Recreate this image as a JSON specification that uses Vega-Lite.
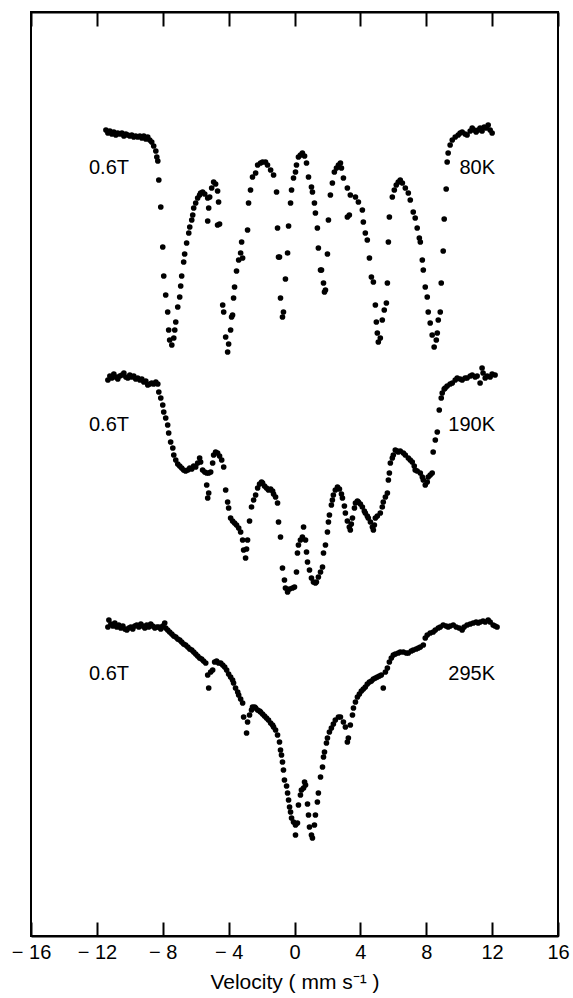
{
"$schema": "https://vega.github.io/schema/vega-lite/v6.json",
"width": 527, "height": 924,
"autosize": {"type": "none"},
"padding": {"left": 31, "top": 12, "right": 15, "bottom": 62},
"config": {"view": {"stroke": "black", "strokeWidth": 2}, "font": "Liberation Sans"},
"datasets": {
"pts": [
{"v":-11.45,"c":806,"s":"80K"},{"v":-11.33,"c":803,"s":"80K"},{"v":-11.21,"c":805,"s":"80K"},{"v":-11.09,"c":802,"s":"80K"},{"v":-10.97,"c":804,"s":"80K"},{"v":-10.85,"c":801,"s":"80K"},{"v":-10.73,"c":803,"s":"80K"},{"v":-10.61,"c":802,"s":"80K"},{"v":-10.48,"c":803,"s":"80K"},{"v":-10.36,"c":800,"s":"80K"},{"v":-10.24,"c":802,"s":"80K"},{"v":-10.12,"c":801,"s":"80K"},{"v":-10.00,"c":800,"s":"80K"},{"v":-9.88,"c":801,"s":"80K"},{"v":-9.76,"c":799,"s":"80K"},{"v":-9.64,"c":800,"s":"80K"},{"v":-9.52,"c":799,"s":"80K"},{"v":-9.39,"c":800,"s":"80K"},{"v":-9.27,"c":798,"s":"80K"},{"v":-9.15,"c":800,"s":"80K"},{"v":-9.03,"c":797,"s":"80K"},{"v":-8.91,"c":799,"s":"80K"},{"v":-8.79,"c":796,"s":"80K"},{"v":-8.67,"c":794,"s":"80K"},{"v":-8.55,"c":790,"s":"80K"},{"v":-8.42,"c":785,"s":"80K"},{"v":-8.36,"c":779,"s":"80K"},{"v":-8.30,"c":775,"s":"80K"},{"v":-8.24,"c":756,"s":"80K"},{"v":-8.12,"c":729,"s":"80K"},{"v":-8.00,"c":689,"s":"80K"},{"v":-7.94,"c":660,"s":"80K"},{"v":-7.82,"c":641,"s":"80K"},{"v":-7.70,"c":624,"s":"80K"},{"v":-7.64,"c":606,"s":"80K"},{"v":-7.58,"c":596,"s":"80K"},{"v":-7.45,"c":591,"s":"80K"},{"v":-7.33,"c":598,"s":"80K"},{"v":-7.27,"c":606,"s":"80K"},{"v":-7.21,"c":614,"s":"80K"},{"v":-7.09,"c":629,"s":"80K"},{"v":-6.97,"c":639,"s":"80K"},{"v":-6.91,"c":650,"s":"80K"},{"v":-6.85,"c":660,"s":"80K"},{"v":-6.73,"c":674,"s":"80K"},{"v":-6.67,"c":682,"s":"80K"},{"v":-6.55,"c":693,"s":"80K"},{"v":-6.42,"c":703,"s":"80K"},{"v":-6.36,"c":709,"s":"80K"},{"v":-6.24,"c":716,"s":"80K"},{"v":-6.18,"c":721,"s":"80K"},{"v":-6.12,"c":728,"s":"80K"},{"v":-6.00,"c":733,"s":"80K"},{"v":-5.88,"c":738,"s":"80K"},{"v":-5.76,"c":741,"s":"80K"},{"v":-5.70,"c":743,"s":"80K"},{"v":-5.58,"c":744,"s":"80K"},{"v":-5.45,"c":742,"s":"80K"},{"v":-5.27,"c":738,"s":"80K"},{"v":-5.21,"c":728,"s":"80K"},{"v":-5.27,"c":715,"s":"80K"},{"v":-5.15,"c":739,"s":"80K"},{"v":-5.03,"c":748,"s":"80K"},{"v":-4.91,"c":754,"s":"80K"},{"v":-4.79,"c":752,"s":"80K"},{"v":-4.67,"c":745,"s":"80K"},{"v":-4.61,"c":734,"s":"80K"},{"v":-4.67,"c":711,"s":"80K"},{"v":-4.55,"c":712,"s":"80K"},{"v":-4.36,"c":631,"s":"80K"},{"v":-4.30,"c":624,"s":"80K"},{"v":-4.18,"c":599,"s":"80K"},{"v":-4.06,"c":584,"s":"80K"},{"v":-4.00,"c":592,"s":"80K"},{"v":-3.88,"c":606,"s":"80K"},{"v":-3.82,"c":619,"s":"80K"},{"v":-3.76,"c":621,"s":"80K"},{"v":-3.70,"c":638,"s":"80K"},{"v":-3.64,"c":649,"s":"80K"},{"v":-3.52,"c":665,"s":"80K"},{"v":-3.39,"c":676,"s":"80K"},{"v":-3.27,"c":683,"s":"80K"},{"v":-3.21,"c":694,"s":"80K"},{"v":-3.15,"c":678,"s":"80K"},{"v":-2.85,"c":706,"s":"80K"},{"v":-2.79,"c":733,"s":"80K"},{"v":-2.67,"c":746,"s":"80K"},{"v":-2.55,"c":759,"s":"80K"},{"v":-2.36,"c":763,"s":"80K"},{"v":-2.24,"c":771,"s":"80K"},{"v":-2.06,"c":773,"s":"80K"},{"v":-1.94,"c":774,"s":"80K"},{"v":-1.76,"c":774,"s":"80K"},{"v":-1.64,"c":771,"s":"80K"},{"v":-1.45,"c":766,"s":"80K"},{"v":-1.27,"c":761,"s":"80K"},{"v":-1.09,"c":744,"s":"80K"},{"v":-1.03,"c":708,"s":"80K"},{"v":-0.91,"c":679,"s":"80K"},{"v":-0.97,"c":679,"s":"80K"},{"v":-0.85,"c":638,"s":"80K"},{"v":-0.73,"c":619,"s":"80K"},{"v":-0.67,"c":624,"s":"80K"},{"v":-0.55,"c":657,"s":"80K"},{"v":-0.42,"c":683,"s":"80K"},{"v":-0.36,"c":710,"s":"80K"},{"v":-0.24,"c":733,"s":"80K"},{"v":-0.18,"c":746,"s":"80K"},{"v":-0.06,"c":758,"s":"80K"},{"v":0.06,"c":764,"s":"80K"},{"v":0.12,"c":771,"s":"80K"},{"v":0.24,"c":779,"s":"80K"},{"v":0.36,"c":781,"s":"80K"},{"v":0.48,"c":783,"s":"80K"},{"v":0.61,"c":780,"s":"80K"},{"v":0.73,"c":773,"s":"80K"},{"v":0.85,"c":759,"s":"80K"},{"v":1.03,"c":749,"s":"80K"},{"v":1.09,"c":744,"s":"80K"},{"v":1.21,"c":733,"s":"80K"},{"v":1.27,"c":723,"s":"80K"},{"v":1.39,"c":708,"s":"80K"},{"v":1.45,"c":688,"s":"80K"},{"v":1.58,"c":666,"s":"80K"},{"v":1.64,"c":666,"s":"80K"},{"v":1.76,"c":653,"s":"80K"},{"v":1.82,"c":644,"s":"80K"},{"v":1.88,"c":646,"s":"80K"},{"v":2.00,"c":682,"s":"80K"},{"v":2.06,"c":716,"s":"80K"},{"v":2.18,"c":741,"s":"80K"},{"v":2.30,"c":753,"s":"80K"},{"v":2.42,"c":764,"s":"80K"},{"v":2.55,"c":768,"s":"80K"},{"v":2.67,"c":771,"s":"80K"},{"v":2.79,"c":773,"s":"80K"},{"v":2.85,"c":768,"s":"80K"},{"v":2.97,"c":758,"s":"80K"},{"v":3.21,"c":748,"s":"80K"},{"v":3.39,"c":741,"s":"80K"},{"v":3.21,"c":719,"s":"80K"},{"v":3.33,"c":721,"s":"80K"},{"v":3.70,"c":739,"s":"80K"},{"v":3.88,"c":734,"s":"80K"},{"v":4.12,"c":726,"s":"80K"},{"v":4.18,"c":714,"s":"80K"},{"v":4.30,"c":703,"s":"80K"},{"v":4.42,"c":696,"s":"80K"},{"v":4.55,"c":678,"s":"80K"},{"v":4.67,"c":659,"s":"80K"},{"v":4.79,"c":654,"s":"80K"},{"v":4.91,"c":631,"s":"80K"},{"v":4.97,"c":614,"s":"80K"},{"v":5.03,"c":603,"s":"80K"},{"v":5.09,"c":594,"s":"80K"},{"v":5.21,"c":598,"s":"80K"},{"v":5.33,"c":616,"s":"80K"},{"v":5.45,"c":626,"s":"80K"},{"v":5.58,"c":633,"s":"80K"},{"v":5.64,"c":653,"s":"80K"},{"v":5.70,"c":694,"s":"80K"},{"v":5.76,"c":719,"s":"80K"},{"v":5.94,"c":739,"s":"80K"},{"v":6.06,"c":746,"s":"80K"},{"v":6.18,"c":751,"s":"80K"},{"v":6.30,"c":754,"s":"80K"},{"v":6.42,"c":756,"s":"80K"},{"v":6.55,"c":753,"s":"80K"},{"v":6.73,"c":748,"s":"80K"},{"v":6.91,"c":743,"s":"80K"},{"v":7.03,"c":736,"s":"80K"},{"v":7.21,"c":724,"s":"80K"},{"v":7.33,"c":718,"s":"80K"},{"v":7.45,"c":708,"s":"80K"},{"v":7.58,"c":698,"s":"80K"},{"v":7.64,"c":694,"s":"80K"},{"v":7.76,"c":676,"s":"80K"},{"v":7.82,"c":666,"s":"80K"},{"v":7.94,"c":649,"s":"80K"},{"v":8.06,"c":639,"s":"80K"},{"v":8.12,"c":624,"s":"80K"},{"v":8.24,"c":613,"s":"80K"},{"v":8.36,"c":601,"s":"80K"},{"v":8.48,"c":589,"s":"80K"},{"v":8.61,"c":596,"s":"80K"},{"v":8.67,"c":603,"s":"80K"},{"v":8.73,"c":616,"s":"80K"},{"v":8.85,"c":624,"s":"80K"},{"v":8.91,"c":653,"s":"80K"},{"v":9.03,"c":685,"s":"80K"},{"v":9.09,"c":717,"s":"80K"},{"v":9.21,"c":747,"s":"80K"},{"v":9.27,"c":774,"s":"80K"},{"v":9.33,"c":783,"s":"80K"},{"v":9.45,"c":791,"s":"80K"},{"v":9.58,"c":796,"s":"80K"},{"v":9.76,"c":799,"s":"80K"},{"v":9.94,"c":801,"s":"80K"},{"v":10.06,"c":803,"s":"80K"},{"v":10.18,"c":804,"s":"80K"},{"v":10.36,"c":802,"s":"80K"},{"v":10.48,"c":801,"s":"80K"},{"v":10.67,"c":805,"s":"80K"},{"v":10.79,"c":808,"s":"80K"},{"v":10.91,"c":806,"s":"80K"},{"v":11.03,"c":804,"s":"80K"},{"v":11.15,"c":806,"s":"80K"},{"v":11.27,"c":808,"s":"80K"},{"v":11.39,"c":805,"s":"80K"},{"v":11.52,"c":809,"s":"80K"},{"v":11.64,"c":808,"s":"80K"},{"v":11.76,"c":811,"s":"80K"},{"v":11.88,"c":806,"s":"80K"},{"v":12.00,"c":803,"s":"80K"},
{"v":-11.33,"c":556,"s":"190K"},{"v":-11.21,"c":560,"s":"190K"},{"v":-11.09,"c":558,"s":"190K"},{"v":-10.97,"c":562,"s":"190K"},{"v":-10.85,"c":559,"s":"190K"},{"v":-10.73,"c":557,"s":"190K"},{"v":-10.61,"c":560,"s":"190K"},{"v":-10.48,"c":561,"s":"190K"},{"v":-10.36,"c":563,"s":"190K"},{"v":-10.24,"c":559,"s":"190K"},{"v":-10.12,"c":558,"s":"190K"},{"v":-10.00,"c":561,"s":"190K"},{"v":-9.88,"c":559,"s":"190K"},{"v":-9.76,"c":560,"s":"190K"},{"v":-9.64,"c":557,"s":"190K"},{"v":-9.52,"c":558,"s":"190K"},{"v":-9.39,"c":556,"s":"190K"},{"v":-9.27,"c":557,"s":"190K"},{"v":-9.15,"c":554,"s":"190K"},{"v":-9.03,"c":555,"s":"190K"},{"v":-8.91,"c":551,"s":"190K"},{"v":-8.79,"c":552,"s":"190K"},{"v":-8.67,"c":553,"s":"190K"},{"v":-8.55,"c":552,"s":"190K"},{"v":-8.42,"c":554,"s":"190K"},{"v":-8.30,"c":552,"s":"190K"},{"v":-8.24,"c":544,"s":"190K"},{"v":-8.12,"c":538,"s":"190K"},{"v":-8.00,"c":531,"s":"190K"},{"v":-7.94,"c":524,"s":"190K"},{"v":-7.82,"c":518,"s":"190K"},{"v":-7.70,"c":511,"s":"190K"},{"v":-7.64,"c":503,"s":"190K"},{"v":-7.52,"c":494,"s":"190K"},{"v":-7.39,"c":488,"s":"190K"},{"v":-7.33,"c":481,"s":"190K"},{"v":-7.21,"c":476,"s":"190K"},{"v":-7.09,"c":472,"s":"190K"},{"v":-6.97,"c":470,"s":"190K"},{"v":-6.85,"c":468,"s":"190K"},{"v":-6.73,"c":466,"s":"190K"},{"v":-6.61,"c":465,"s":"190K"},{"v":-6.48,"c":466,"s":"190K"},{"v":-6.36,"c":468,"s":"190K"},{"v":-6.24,"c":467,"s":"190K"},{"v":-6.12,"c":470,"s":"190K"},{"v":-6.00,"c":469,"s":"190K"},{"v":-5.88,"c":473,"s":"190K"},{"v":-5.76,"c":478,"s":"190K"},{"v":-5.70,"c":474,"s":"190K"},{"v":-5.58,"c":466,"s":"190K"},{"v":-5.45,"c":464,"s":"190K"},{"v":-5.33,"c":463,"s":"190K"},{"v":-5.21,"c":463,"s":"190K"},{"v":-5.09,"c":464,"s":"190K"},{"v":-4.97,"c":473,"s":"190K"},{"v":-4.91,"c":481,"s":"190K"},{"v":-4.79,"c":484,"s":"190K"},{"v":-4.67,"c":483,"s":"190K"},{"v":-4.55,"c":480,"s":"190K"},{"v":-4.42,"c":476,"s":"190K"},{"v":-4.30,"c":469,"s":"190K"},{"v":-5.33,"c":451,"s":"190K"},{"v":-5.21,"c":443,"s":"190K"},{"v":-5.27,"c":438,"s":"190K"},{"v":-4.18,"c":446,"s":"190K"},{"v":-4.06,"c":434,"s":"190K"},{"v":-4.00,"c":428,"s":"190K"},{"v":-3.88,"c":418,"s":"190K"},{"v":-3.76,"c":415,"s":"190K"},{"v":-3.64,"c":413,"s":"190K"},{"v":-3.52,"c":411,"s":"190K"},{"v":-3.39,"c":408,"s":"190K"},{"v":-3.27,"c":404,"s":"190K"},{"v":-3.15,"c":396,"s":"190K"},{"v":-3.09,"c":386,"s":"190K"},{"v":-2.97,"c":378,"s":"190K"},{"v":-2.91,"c":387,"s":"190K"},{"v":-2.85,"c":396,"s":"190K"},{"v":-2.73,"c":415,"s":"190K"},{"v":-2.61,"c":429,"s":"190K"},{"v":-2.48,"c":436,"s":"190K"},{"v":-2.36,"c":441,"s":"190K"},{"v":-2.24,"c":448,"s":"190K"},{"v":-2.12,"c":452,"s":"190K"},{"v":-2.00,"c":454,"s":"190K"},{"v":-1.94,"c":453,"s":"190K"},{"v":-1.82,"c":450,"s":"190K"},{"v":-1.70,"c":448,"s":"190K"},{"v":-1.58,"c":446,"s":"190K"},{"v":-1.45,"c":447,"s":"190K"},{"v":-1.33,"c":445,"s":"190K"},{"v":-1.27,"c":442,"s":"190K"},{"v":-1.15,"c":439,"s":"190K"},{"v":-1.03,"c":433,"s":"190K"},{"v":-0.97,"c":414,"s":"190K"},{"v":-0.85,"c":399,"s":"190K"},{"v":-0.73,"c":368,"s":"190K"},{"v":-0.61,"c":356,"s":"190K"},{"v":-0.55,"c":348,"s":"190K"},{"v":-0.42,"c":344,"s":"190K"},{"v":-0.30,"c":347,"s":"190K"},{"v":-0.12,"c":348,"s":"190K"},{"v":0.00,"c":349,"s":"190K"},{"v":0.12,"c":364,"s":"190K"},{"v":0.18,"c":383,"s":"190K"},{"v":0.24,"c":391,"s":"190K"},{"v":0.36,"c":396,"s":"190K"},{"v":0.48,"c":399,"s":"190K"},{"v":0.55,"c":409,"s":"190K"},{"v":0.67,"c":396,"s":"190K"},{"v":0.73,"c":384,"s":"190K"},{"v":0.79,"c":374,"s":"190K"},{"v":0.91,"c":366,"s":"190K"},{"v":1.03,"c":358,"s":"190K"},{"v":1.15,"c":354,"s":"190K"},{"v":1.27,"c":353,"s":"190K"},{"v":1.33,"c":354,"s":"190K"},{"v":1.45,"c":359,"s":"190K"},{"v":1.58,"c":364,"s":"190K"},{"v":1.70,"c":369,"s":"190K"},{"v":1.76,"c":383,"s":"190K"},{"v":1.88,"c":391,"s":"190K"},{"v":2.00,"c":404,"s":"190K"},{"v":2.06,"c":414,"s":"190K"},{"v":2.12,"c":421,"s":"190K"},{"v":2.24,"c":431,"s":"190K"},{"v":2.30,"c":436,"s":"190K"},{"v":2.36,"c":441,"s":"190K"},{"v":2.48,"c":446,"s":"190K"},{"v":2.61,"c":449,"s":"190K"},{"v":2.73,"c":447,"s":"190K"},{"v":2.85,"c":442,"s":"190K"},{"v":2.91,"c":438,"s":"190K"},{"v":3.03,"c":430,"s":"190K"},{"v":3.09,"c":423,"s":"190K"},{"v":3.21,"c":415,"s":"190K"},{"v":3.33,"c":409,"s":"190K"},{"v":3.39,"c":406,"s":"190K"},{"v":3.45,"c":412,"s":"190K"},{"v":3.52,"c":418,"s":"190K"},{"v":3.64,"c":428,"s":"190K"},{"v":3.70,"c":433,"s":"190K"},{"v":3.82,"c":435,"s":"190K"},{"v":3.88,"c":434,"s":"190K"},{"v":4.00,"c":432,"s":"190K"},{"v":4.12,"c":429,"s":"190K"},{"v":4.24,"c":425,"s":"190K"},{"v":4.30,"c":423,"s":"190K"},{"v":4.42,"c":420,"s":"190K"},{"v":4.48,"c":418,"s":"190K"},{"v":4.61,"c":414,"s":"190K"},{"v":4.73,"c":409,"s":"190K"},{"v":4.79,"c":406,"s":"190K"},{"v":4.85,"c":411,"s":"190K"},{"v":4.91,"c":418,"s":"190K"},{"v":5.03,"c":420,"s":"190K"},{"v":5.21,"c":423,"s":"190K"},{"v":5.33,"c":429,"s":"190K"},{"v":5.39,"c":434,"s":"190K"},{"v":5.52,"c":439,"s":"190K"},{"v":5.64,"c":443,"s":"190K"},{"v":5.70,"c":456,"s":"190K"},{"v":5.76,"c":463,"s":"190K"},{"v":5.82,"c":473,"s":"190K"},{"v":5.94,"c":478,"s":"190K"},{"v":6.00,"c":481,"s":"190K"},{"v":6.12,"c":486,"s":"190K"},{"v":6.24,"c":485,"s":"190K"},{"v":6.30,"c":484,"s":"190K"},{"v":6.42,"c":485,"s":"190K"},{"v":6.61,"c":483,"s":"190K"},{"v":6.73,"c":481,"s":"190K"},{"v":6.91,"c":478,"s":"190K"},{"v":7.03,"c":476,"s":"190K"},{"v":7.15,"c":474,"s":"190K"},{"v":7.27,"c":470,"s":"190K"},{"v":7.33,"c":466,"s":"190K"},{"v":7.45,"c":465,"s":"190K"},{"v":7.64,"c":463,"s":"190K"},{"v":7.76,"c":459,"s":"190K"},{"v":7.82,"c":456,"s":"190K"},{"v":7.94,"c":451,"s":"190K"},{"v":8.06,"c":454,"s":"190K"},{"v":8.12,"c":459,"s":"190K"},{"v":8.24,"c":461,"s":"190K"},{"v":8.36,"c":463,"s":"190K"},{"v":8.42,"c":484,"s":"190K"},{"v":8.55,"c":496,"s":"190K"},{"v":8.67,"c":504,"s":"190K"},{"v":8.79,"c":526,"s":"190K"},{"v":8.91,"c":538,"s":"190K"},{"v":8.97,"c":543,"s":"190K"},{"v":9.09,"c":547,"s":"190K"},{"v":9.15,"c":548,"s":"190K"},{"v":9.27,"c":550,"s":"190K"},{"v":9.45,"c":552,"s":"190K"},{"v":9.58,"c":553,"s":"190K"},{"v":9.76,"c":556,"s":"190K"},{"v":9.88,"c":558,"s":"190K"},{"v":10.06,"c":557,"s":"190K"},{"v":10.18,"c":556,"s":"190K"},{"v":10.36,"c":558,"s":"190K"},{"v":10.48,"c":558,"s":"190K"},{"v":10.67,"c":560,"s":"190K"},{"v":10.79,"c":561,"s":"190K"},{"v":10.97,"c":559,"s":"190K"},{"v":11.09,"c":560,"s":"190K"},{"v":11.27,"c":553,"s":"190K"},{"v":11.39,"c":568,"s":"190K"},{"v":11.45,"c":563,"s":"190K"},{"v":11.58,"c":558,"s":"190K"},{"v":11.70,"c":560,"s":"190K"},{"v":11.88,"c":559,"s":"190K"},{"v":12.00,"c":562,"s":"190K"},{"v":12.18,"c":561,"s":"190K"},
{"v":-11.33,"c":309,"s":"295K"},{"v":-11.27,"c":316,"s":"295K"},{"v":-11.15,"c":312,"s":"295K"},{"v":-11.03,"c":310,"s":"295K"},{"v":-10.91,"c":313,"s":"295K"},{"v":-10.79,"c":309,"s":"295K"},{"v":-10.67,"c":311,"s":"295K"},{"v":-10.55,"c":308,"s":"295K"},{"v":-10.42,"c":310,"s":"295K"},{"v":-10.30,"c":307,"s":"295K"},{"v":-10.18,"c":306,"s":"295K"},{"v":-10.06,"c":308,"s":"295K"},{"v":-9.94,"c":309,"s":"295K"},{"v":-9.82,"c":307,"s":"295K"},{"v":-9.70,"c":310,"s":"295K"},{"v":-9.58,"c":311,"s":"295K"},{"v":-9.45,"c":309,"s":"295K"},{"v":-9.33,"c":312,"s":"295K"},{"v":-9.21,"c":310,"s":"295K"},{"v":-9.09,"c":308,"s":"295K"},{"v":-8.97,"c":311,"s":"295K"},{"v":-8.85,"c":309,"s":"295K"},{"v":-8.73,"c":312,"s":"295K"},{"v":-8.61,"c":310,"s":"295K"},{"v":-8.48,"c":308,"s":"295K"},{"v":-8.36,"c":309,"s":"295K"},{"v":-8.24,"c":309,"s":"295K"},{"v":-8.12,"c":307,"s":"295K"},{"v":-8.00,"c":310,"s":"295K"},{"v":-7.88,"c":313,"s":"295K"},{"v":-7.82,"c":308,"s":"295K"},{"v":-7.70,"c":306,"s":"295K"},{"v":-7.58,"c":304,"s":"295K"},{"v":-7.45,"c":302,"s":"295K"},{"v":-7.33,"c":300,"s":"295K"},{"v":-7.21,"c":299,"s":"295K"},{"v":-7.09,"c":297,"s":"295K"},{"v":-6.97,"c":296,"s":"295K"},{"v":-6.85,"c":294,"s":"295K"},{"v":-6.73,"c":292,"s":"295K"},{"v":-6.61,"c":291,"s":"295K"},{"v":-6.48,"c":289,"s":"295K"},{"v":-6.36,"c":287,"s":"295K"},{"v":-6.24,"c":286,"s":"295K"},{"v":-6.12,"c":284,"s":"295K"},{"v":-6.00,"c":282,"s":"295K"},{"v":-5.88,"c":280,"s":"295K"},{"v":-5.76,"c":278,"s":"295K"},{"v":-5.64,"c":277,"s":"295K"},{"v":-5.52,"c":275,"s":"295K"},{"v":-5.39,"c":273,"s":"295K"},{"v":-5.27,"c":261,"s":"295K"},{"v":-5.21,"c":248,"s":"295K"},{"v":-5.09,"c":264,"s":"295K"},{"v":-4.97,"c":266,"s":"295K"},{"v":-4.85,"c":274,"s":"295K"},{"v":-4.73,"c":275,"s":"295K"},{"v":-4.61,"c":273,"s":"295K"},{"v":-4.48,"c":273,"s":"295K"},{"v":-4.36,"c":271,"s":"295K"},{"v":-4.24,"c":269,"s":"295K"},{"v":-4.12,"c":266,"s":"295K"},{"v":-4.00,"c":262,"s":"295K"},{"v":-3.88,"c":259,"s":"295K"},{"v":-3.76,"c":256,"s":"295K"},{"v":-3.70,"c":253,"s":"295K"},{"v":-3.58,"c":248,"s":"295K"},{"v":-3.45,"c":244,"s":"295K"},{"v":-3.39,"c":241,"s":"295K"},{"v":-3.27,"c":237,"s":"295K"},{"v":-3.15,"c":233,"s":"295K"},{"v":-3.09,"c":219,"s":"295K"},{"v":-2.91,"c":203,"s":"295K"},{"v":-2.85,"c":214,"s":"295K"},{"v":-2.73,"c":221,"s":"295K"},{"v":-2.61,"c":226,"s":"295K"},{"v":-2.55,"c":229,"s":"295K"},{"v":-2.42,"c":229,"s":"295K"},{"v":-2.36,"c":228,"s":"295K"},{"v":-2.24,"c":226,"s":"295K"},{"v":-2.12,"c":225,"s":"295K"},{"v":-2.06,"c":224,"s":"295K"},{"v":-1.94,"c":222,"s":"295K"},{"v":-1.82,"c":220,"s":"295K"},{"v":-1.70,"c":218,"s":"295K"},{"v":-1.58,"c":216,"s":"295K"},{"v":-1.45,"c":213,"s":"295K"},{"v":-1.33,"c":211,"s":"295K"},{"v":-1.27,"c":209,"s":"295K"},{"v":-1.15,"c":206,"s":"295K"},{"v":-1.03,"c":201,"s":"295K"},{"v":-0.91,"c":194,"s":"295K"},{"v":-0.85,"c":186,"s":"295K"},{"v":-0.79,"c":181,"s":"295K"},{"v":-0.73,"c":174,"s":"295K"},{"v":-0.67,"c":166,"s":"295K"},{"v":-0.61,"c":156,"s":"295K"},{"v":-0.48,"c":150,"s":"295K"},{"v":-0.42,"c":143,"s":"295K"},{"v":-0.36,"c":136,"s":"295K"},{"v":-0.30,"c":129,"s":"295K"},{"v":-0.24,"c":124,"s":"295K"},{"v":-0.18,"c":118,"s":"295K"},{"v":-0.06,"c":114,"s":"295K"},{"v":0.06,"c":111,"s":"295K"},{"v":0.06,"c":101,"s":"295K"},{"v":0.18,"c":113,"s":"295K"},{"v":0.24,"c":131,"s":"295K"},{"v":0.36,"c":141,"s":"295K"},{"v":0.42,"c":146,"s":"295K"},{"v":0.55,"c":148,"s":"295K"},{"v":0.61,"c":154,"s":"295K"},{"v":0.67,"c":151,"s":"295K"},{"v":0.79,"c":132,"s":"295K"},{"v":0.85,"c":121,"s":"295K"},{"v":0.91,"c":109,"s":"295K"},{"v":1.03,"c":101,"s":"295K"},{"v":1.09,"c":98,"s":"295K"},{"v":1.21,"c":111,"s":"295K"},{"v":1.27,"c":121,"s":"295K"},{"v":1.39,"c":134,"s":"295K"},{"v":1.45,"c":143,"s":"295K"},{"v":1.58,"c":159,"s":"295K"},{"v":1.70,"c":169,"s":"295K"},{"v":1.76,"c":179,"s":"295K"},{"v":1.82,"c":184,"s":"295K"},{"v":1.94,"c":193,"s":"295K"},{"v":2.00,"c":198,"s":"295K"},{"v":2.12,"c":204,"s":"295K"},{"v":2.24,"c":208,"s":"295K"},{"v":2.36,"c":212,"s":"295K"},{"v":2.48,"c":216,"s":"295K"},{"v":2.67,"c":219,"s":"295K"},{"v":2.79,"c":219,"s":"295K"},{"v":2.97,"c":214,"s":"295K"},{"v":3.09,"c":209,"s":"295K"},{"v":3.21,"c":194,"s":"295K"},{"v":3.27,"c":198,"s":"295K"},{"v":3.39,"c":211,"s":"295K"},{"v":3.52,"c":221,"s":"295K"},{"v":3.58,"c":228,"s":"295K"},{"v":3.70,"c":234,"s":"295K"},{"v":3.82,"c":239,"s":"295K"},{"v":3.94,"c":242,"s":"295K"},{"v":4.06,"c":245,"s":"295K"},{"v":4.18,"c":247,"s":"295K"},{"v":4.30,"c":249,"s":"295K"},{"v":4.42,"c":252,"s":"295K"},{"v":4.55,"c":254,"s":"295K"},{"v":4.67,"c":255,"s":"295K"},{"v":4.79,"c":257,"s":"295K"},{"v":4.91,"c":258,"s":"295K"},{"v":5.03,"c":259,"s":"295K"},{"v":5.15,"c":260,"s":"295K"},{"v":5.27,"c":261,"s":"295K"},{"v":5.39,"c":248,"s":"295K"},{"v":5.52,"c":264,"s":"295K"},{"v":5.64,"c":268,"s":"295K"},{"v":5.76,"c":274,"s":"295K"},{"v":5.88,"c":278,"s":"295K"},{"v":6.00,"c":281,"s":"295K"},{"v":6.12,"c":282,"s":"295K"},{"v":6.30,"c":283,"s":"295K"},{"v":6.42,"c":284,"s":"295K"},{"v":6.61,"c":284,"s":"295K"},{"v":6.79,"c":283,"s":"295K"},{"v":6.91,"c":283,"s":"295K"},{"v":7.09,"c":285,"s":"295K"},{"v":7.21,"c":286,"s":"295K"},{"v":7.39,"c":287,"s":"295K"},{"v":7.52,"c":288,"s":"295K"},{"v":7.64,"c":289,"s":"295K"},{"v":7.82,"c":291,"s":"295K"},{"v":7.94,"c":298,"s":"295K"},{"v":8.06,"c":301,"s":"295K"},{"v":8.24,"c":303,"s":"295K"},{"v":8.42,"c":304,"s":"295K"},{"v":8.55,"c":306,"s":"295K"},{"v":8.73,"c":308,"s":"295K"},{"v":8.85,"c":309,"s":"295K"},{"v":9.03,"c":311,"s":"295K"},{"v":9.21,"c":310,"s":"295K"},{"v":9.33,"c":309,"s":"295K"},{"v":9.45,"c":310,"s":"295K"},{"v":9.64,"c":311,"s":"295K"},{"v":9.82,"c":309,"s":"295K"},{"v":10.00,"c":308,"s":"295K"},{"v":10.18,"c":306,"s":"295K"},{"v":10.30,"c":309,"s":"295K"},{"v":10.48,"c":311,"s":"295K"},{"v":10.67,"c":312,"s":"295K"},{"v":10.85,"c":313,"s":"295K"},{"v":11.03,"c":314,"s":"295K"},{"v":11.15,"c":313,"s":"295K"},{"v":11.27,"c":314,"s":"295K"},{"v":11.45,"c":315,"s":"295K"},{"v":11.58,"c":314,"s":"295K"},{"v":11.76,"c":316,"s":"295K"},{"v":11.88,"c":314,"s":"295K"},{"v":12.06,"c":311,"s":"295K"},{"v":12.18,"c":310,"s":"295K"},{"v":12.30,"c":309,"s":"295K"}
],
"labL": [{"v":-12.48,"c":768,"label":"0.6T"},{"v":-12.48,"c":511,"label":"0.6T"},{"v":-12.48,"c":262,"label":"0.6T"}],
"labR": [{"v":12.18,"c":768,"label":"80K"},{"v":12.18,"c":511,"label":"190K"},{"v":12.18,"c":262,"label":"295K"}]
},
"layer": [
{"data": {"name": "pts"},
 "mark": {"type": "point", "filled": true, "shape": "circle", "size": 32, "color": "black", "opacity": 1},
 "encoding": {
  "x": {"field": "v", "type": "quantitative", "scale": {"domain": [-16, 16], "nice": false, "zero": false},
        "axis": {"orient": "bottom", "values": [-16,-12,-8,-4,0,4,8,12,16], "grid": false, "tickSize": -14, "tickWidth": 2, "tickColor": "black", "domainColor": "black", "domainWidth": 2, "labelFontSize": 20, "labelFont": "Liberation Sans", "labelColor": "black", "labelPadding": 20, "labelFlush": false, "labelOverlap": false, "labelExpr": "datum.value < 0 ? '\u2212 ' + abs(datum.value) : '' + datum.value", "title": "Velocity ( mm s\u207b\u00b9 )", "titleFont": "Liberation Sans", "titleFontSize": 21, "titleFontWeight": "normal", "titleColor": "black", "titlePadding": 9}},
  "y": {"field": "c", "type": "quantitative", "scale": {"domain": [0, 924], "nice": false, "zero": false}, "axis": null}
 }},
{"data": {"name": "labL"},
 "mark": {"type": "text", "align": "left", "baseline": "middle", "fontSize": 20, "font": "Liberation Sans", "color": "black"},
 "encoding": {
  "x": {"field": "v", "type": "quantitative", "axis": {"orient": "top", "values": [-16,-12,-8,-4,0,4,8,12,16], "grid": false, "labels": false, "tickSize": -14, "tickWidth": 2, "tickColor": "black", "domainColor": "black", "domainWidth": 2, "title": null}},
  "y": {"field": "c", "type": "quantitative"},
  "text": {"field": "label"}
 }},
{"data": {"name": "labR"},
 "mark": {"type": "text", "align": "right", "baseline": "middle", "fontSize": 20, "font": "Liberation Sans", "color": "black"},
 "encoding": {
  "x": {"field": "v", "type": "quantitative", "axis": null},
  "y": {"field": "c", "type": "quantitative"},
  "text": {"field": "label"}
 }}
],
"resolve": {"axis": {"x": "independent"}}
}
